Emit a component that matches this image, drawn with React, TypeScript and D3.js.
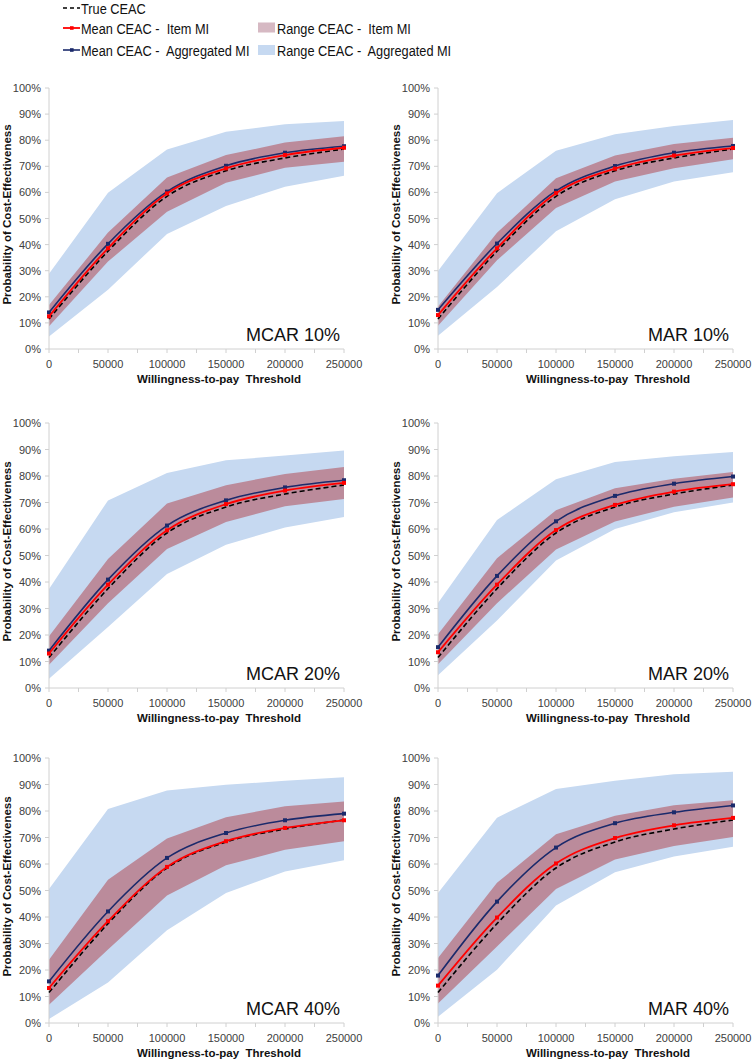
import * as d3 from 'd3'

const WTP = [0, 50000, 100000, 150000, 200000, 250000]
const X_TICKS = [0, 50000, 100000, 150000, 200000, 250000]
const Y_TICKS = [0, 10, 20, 30, 40, 50, 60, 70, 80, 90, 100]

const PANEL_LABELS = ['MCAR 10%', 'MAR 10%', 'MCAR 20%', 'MAR 20%', 'MCAR 40%', 'MAR 40%']

const TRUE_CEAC = [11.5, 37.5, 58.5, 68.3, 73.2, 76.6]

const ITEM_MEAN = [
  [12.5, 38.6, 59.6, 69.2, 74.3, 77.1],
  [13.0, 38.6, 59.7, 69.1, 74.1, 77.0],
  [13.0, 39.0, 59.5, 69.4, 74.5, 77.4],
  [13.5, 39.0, 59.6, 69.1, 74.1, 76.9],
  [13.2, 38.4, 58.9, 68.6, 73.6, 76.5],
  [14.1, 39.8, 60.2, 69.8, 74.6, 77.4],
]
const AGG_MEAN = [
  [14.0, 40.3, 60.3, 70.2, 75.2, 77.7],
  [15.0, 40.4, 60.6, 70.1, 75.2, 77.8],
  [14.1, 40.9, 61.3, 70.8, 75.7, 78.4],
  [15.4, 42.3, 62.9, 72.5, 77.1, 79.8],
  [15.7, 42.1, 62.3, 71.7, 76.5, 79.0],
  [17.9, 45.8, 66.2, 75.4, 79.5, 82.1],
]
const ITEM_LOW = [
  [8.7, 33.5, 52.6, 63.7, 69.4, 71.7],
  [8.9, 34.0, 54.0, 64.2, 69.3, 72.7],
  [8.8, 32.0, 52.5, 62.6, 68.6, 71.3],
  [9.0, 32.0, 52.3, 62.8, 68.4, 71.9],
  [6.9, 27.7, 48.1, 59.5, 65.4, 68.6],
  [7.4, 28.9, 50.6, 61.7, 66.8, 70.2],
]
const ITEM_HIGH = [
  [16.9, 44.6, 65.7, 74.3, 79.1, 81.5],
  [16.3, 44.5, 65.4, 74.1, 78.5, 80.9],
  [19.5, 48.7, 69.6, 76.5, 80.8, 83.4],
  [20.3, 49.0, 67.1, 75.4, 79.0, 81.5],
  [23.9, 54.1, 69.6, 77.6, 81.8, 83.6],
  [24.5, 52.9, 71.2, 78.2, 82.2, 84.1],
]
const AGG_LOW = [
  [4.8, 22.7, 44.1, 54.8, 62.2, 66.4],
  [5.1, 23.8, 45.1, 57.4, 64.2, 67.7],
  [3.5, 23.0, 43.0, 54.1, 60.6, 64.5],
  [4.8, 25.5, 48.1, 60.0, 66.3, 70.0],
  [1.5, 15.3, 35.0, 49.1, 57.2, 61.4],
  [2.4, 20.1, 44.3, 56.9, 62.8, 66.5],
]
const AGG_HIGH = [
  [28.8, 59.9, 76.4, 83.2, 86.1, 87.4],
  [29.9, 59.7, 76.0, 82.3, 85.4, 87.7],
  [37.4, 70.8, 81.1, 85.9, 87.7, 89.6],
  [32.1, 63.4, 78.8, 85.3, 87.5, 89.1],
  [50.6, 80.8, 87.7, 89.9, 91.4, 92.7],
  [49.1, 77.5, 88.3, 91.4, 93.9, 94.8],
]

const RED = '#ff0000'
const NAVY = '#1b2a6b'
const PINK = '#bb8b9b'
const LIGHT_BLUE = '#c6d9f1'
const AXIS = '#d0d0d0'
const TEXT = '#404040'
const FONT = '"Liberation Sans", Arial, sans-serif'

const COL_X = [49, 438]
const PLOT_W = 295
const ROW_Y: [number, number][] = [[88, 349], [423, 688], [758, 1023]]

function Panel({ idx }: { idx: number }) {
  const col = idx % 2
  const row = Math.floor(idx / 2)
  const left = COL_X[col]
  const [top, bottom] = ROW_Y[row]

  const x = d3.scaleLinear().domain([0, 250000]).range([left, left + PLOT_W])
  const y = d3.scaleLinear().domain([0, 100]).range([bottom, top])

  const band = (lo: number[], hi: number[]) =>
    d3.area<number>()
      .x((_, i) => x(WTP[i]))
      .y0((_, i) => y(lo[i]))
      .y1((_, i) => y(hi[i]))(WTP) ?? ''

  const smooth = d3.line<number>()
    .x((_, i) => x(WTP[i]))
    .y((d) => y(d))
    .curve(d3.curveCardinal.tension(0))

  const minorTicks = d3.range(0, 250001, 25000)

  return (
    <g>
      <path d={band(AGG_LOW[idx], AGG_HIGH[idx])} fill={LIGHT_BLUE} />
      <path d={band(ITEM_LOW[idx], ITEM_HIGH[idx])} fill={PINK} />

      {/* axes */}
      <line x1={left} x2={left} y1={top} y2={bottom} stroke={AXIS} />
      <line x1={left} x2={left + PLOT_W} y1={bottom} y2={bottom} stroke={AXIS} />
      {Y_TICKS.map((t) => (
        <g key={t}>
          <line x1={left - 4} x2={left} y1={y(t)} y2={y(t)} stroke={AXIS} />
          <text x={left - 8} y={y(t) + 4} textAnchor="end" fontSize={11} fill={TEXT} fontFamily={FONT}>
            {t}%
          </text>
        </g>
      ))}
      {minorTicks.map((t) => (
        <line key={t} x1={x(t)} x2={x(t)} y1={bottom} y2={bottom + 4} stroke={AXIS} />
      ))}
      {X_TICKS.map((t) => (
        <text key={t} x={x(t)} y={bottom + 19} textAnchor="middle" fontSize={11} fill={TEXT} fontFamily={FONT}>
          {t}
        </text>
      ))}
      <text x={left + 170} y={bottom + 33.5} textAnchor="middle" fontSize={11.5} fontWeight="bold" fill="#111" fontFamily={FONT} style={{ whiteSpace: 'pre' }}>
        Willingness-to-pay  Threshold
      </text>
      <text
        transform={`translate(${left - 38},${(top + bottom) / 2 - 4}) rotate(-90)`}
        textAnchor="middle" fontSize={11.5} fontWeight="bold" fill="#111" fontFamily={FONT}
      >
        Probability of Cost-Effectiveness
      </text>

      {/* lines */}
      <path d={smooth(TRUE_CEAC) ?? ''} fill="none" stroke="#000" strokeWidth={1.6} strokeDasharray="5,3" />
      <path d={smooth(AGG_MEAN[idx]) ?? ''} fill="none" stroke={NAVY} strokeWidth={1.6} />
      {AGG_MEAN[idx].map((v, i) => (
        <rect key={i} x={x(WTP[i]) - 2} y={y(v) - 2} width={4} height={4} fill={NAVY} />
      ))}
      <path d={smooth(ITEM_MEAN[idx]) ?? ''} fill="none" stroke={RED} strokeWidth={1.8} />
      {ITEM_MEAN[idx].map((v, i) => (
        <rect key={i} x={x(WTP[i]) - 2} y={y(v) - 2} width={4} height={4} fill={RED} />
      ))}

      <text x={left + PLOT_W - 4} y={bottom - 8} textAnchor="end" fontSize={18} fill="#111" fontFamily={FONT}>
        {PANEL_LABELS[idx]}
      </text>
    </g>
  )
}

// condensed legend label
function Label({ x, y, children }: { x: number; y: number; children: string }) {
  return (
    <g transform={`translate(${x},${y}) scale(0.85,1)`}>
      <text x={0} y={0} fontSize={15} fill="#111" fontFamily={FONT} style={{ whiteSpace: 'pre' }}>
        {children}
      </text>
    </g>
  )
}

function Legend() {
  return (
    <g>
      <line x1={63} x2={80} y1={8} y2={8} stroke="#000" strokeWidth={1.6} strokeDasharray="4,3" />
      <Label x={81} y={13.5}>True CEAC</Label>

      <line x1={63} x2={80} y1={28} y2={28} stroke={RED} strokeWidth={1.8} />
      <rect x={70} y={26.2} width={3.6} height={3.6} fill={RED} />
      <Label x={81} y={33.5}>Mean CEAC -  Item MI</Label>

      <line x1={63} x2={80} y1={50} y2={50} stroke={NAVY} strokeWidth={1.6} />
      <rect x={70} y={48.2} width={3.6} height={3.6} fill={NAVY} />
      <Label x={81} y={55.5}>Mean CEAC -  Aggregated MI</Label>

      <rect x={258} y={22.5} width={17} height={10} fill={PINK} opacity={0.6} />
      <Label x={277} y={33.5}>Range CEAC -  Item MI</Label>

      <rect x={258} y={45} width={17} height={10} fill={LIGHT_BLUE} />
      <Label x={277} y={55.5}>Range CEAC -  Aggregated MI</Label>
    </g>
  )
}

export default function App() {
  return (
    <svg
      width={754}
      height={1062}
      style={{ position: 'absolute', left: 0, top: 0, background: '#fff' }}
    >
      <rect width={754} height={1062} fill="#fff" />
      <Legend />
      {PANEL_LABELS.map((_, i) => (
        <Panel key={i} idx={i} />
      ))}
    </svg>
  )
}
